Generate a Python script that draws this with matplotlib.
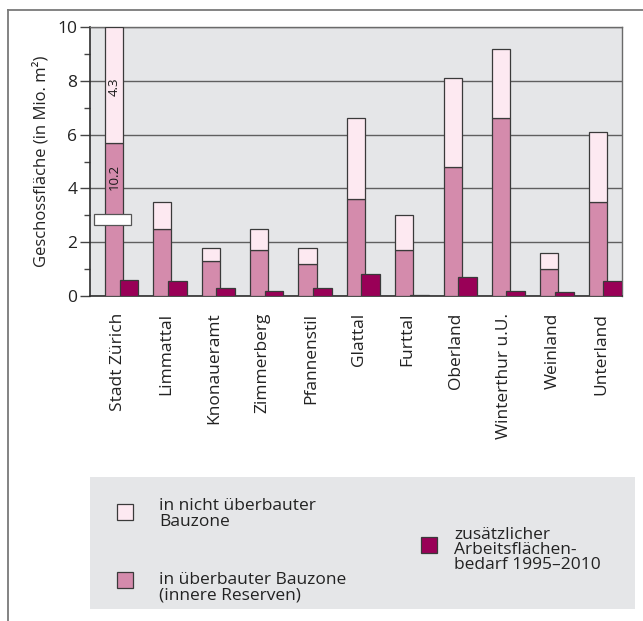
import matplotlib
matplotlib.use("Agg")
import matplotlib.pyplot as plt
from matplotlib.patches import Rectangle
from matplotlib.lines import Line2D
from matplotlib.ticker import MultipleLocator

plt.rcParams["font.family"] = ["Open Sans", "DejaVu Sans"]

# Regions and floor space reserves (Mio. m²)
regions = ["Stadt Zürich", "Limmattal", "Knonaueramt", "Zimmerberg", "Pfannenstil",
           "Glattal", "Furttal", "Oberland", "Winterthur u.U.", "Weinland", "Unterland"]
inner_reserves = [10.2, 2.5, 1.3, 1.7, 1.2, 3.6, 1.7, 4.8, 6.6, 1.0, 3.5]   # in überbauter Bauzone
outer_reserves = [4.3, 1.0, 0.5, 0.8, 0.6, 3.0, 1.3, 3.3, 2.6, 0.6, 2.6]    # in nicht überbauter Bauzone
demand = [0.6, 0.55, 0.3, 0.2, 0.28, 0.82, 0.05, 0.72, 0.2, 0.15, 0.57]     # zusätzlicher Arbeitsflächenbedarf
y_max = 10
y_ticks = [0, 2, 4, 6, 8, 10]

C_OUTER = "#fde9f1"
C_INNER = "#d48bac"
C_DEMAND = "#990057"
C_BG = "#e5e6e8"
C_EDGE = "#3a3a3a"
C_TEXT = "#222222"
FS = 12.5

W, H = 643, 621
fig = plt.figure(figsize=(W / 100, H / 100), dpi=100)


def fx(px):
    return px / W


def fy(py):
    return 1 - py / H


# outer frame lines
fig.add_artist(Line2D([fx(8), 1], [fy(10), fy(10)], color="#7a7a7a", lw=1.3))
fig.add_artist(Line2D([fx(8), fx(8)], [fy(10), 0], color="#7a7a7a", lw=1.3))

ax = fig.add_axes([fx(90), fy(296), fx(622) - fx(90), fy(27) - fy(296)])
ax.set_facecolor(C_BG)
ax.set_xlim(0, len(regions))
ax.set_ylim(0, y_max)

# broken first bar: the lower segment is shortened so the stack fits the axis
cut = max(0, inner_reserves[0] + outer_reserves[0] - y_max)
inner_drawn = [v - cut if i == 0 else v for i, v in enumerate(inner_reserves)]

xs = list(range(len(regions)))
bw_main = 0.375
bw_dem = 0.39
x_main = [x + 0.31 for x in xs]
x_dem = [x + 0.61 for x in xs]

ax.bar(x_main, inner_drawn, width=bw_main, align="edge", color=C_INNER,
       edgecolor=C_EDGE, linewidth=0.9, zorder=3)
ax.bar(x_main, outer_reserves, width=bw_main, bottom=inner_drawn, align="edge",
       color=C_OUTER, edgecolor=C_EDGE, linewidth=0.9, zorder=3)
ax.bar(x_dem, demand, width=bw_dem, align="edge", color=C_DEMAND,
       edgecolor=C_EDGE, linewidth=0.9, zorder=4)

# break marker on the first bar
ax.add_patch(Rectangle((0.08, 2.64), 0.77, 0.39, facecolor="white",
                       edgecolor="#555555", linewidth=0.9, zorder=5, clip_on=False))

# value labels on the broken bar
xc0 = x_main[0] + bw_main / 2
ax.text(xc0, inner_drawn[0] - 1.28, f"{inner_reserves[0]:.1f}", rotation=90,
        ha="center", va="center", fontsize=9.5, color="#1a1a1a", zorder=6)
ax.text(xc0, inner_drawn[0] + outer_reserves[0] / 2 - 0.08, f"{outer_reserves[0]:.1f}",
        rotation=90, ha="center", va="center", fontsize=9.5, color="#1a1a1a", zorder=6)

ax.set_yticks(y_ticks)
ax.yaxis.set_minor_locator(MultipleLocator(1))
ax.grid(axis="y", which="major", color="#5f5f5f", linewidth=1.0, zorder=1)
ax.set_axisbelow(True)
ax.tick_params(axis="y", which="major", length=7, width=1, color="#444444",
               labelsize=FS, labelcolor=C_TEXT, pad=2)
ax.tick_params(axis="y", which="minor", length=4, width=1, color="#444444")
ax.set_xticks([x + 0.57 for x in xs])
ax.set_xticklabels(regions, rotation=90, fontsize=FS, color=C_TEXT, va="top", ha="center")
ax.tick_params(axis="x", length=0, pad=12)
ax.set_ylabel("Geschossfläche (in Mio. m²)", fontsize=12, color=C_TEXT, labelpad=6)

for side in ("top", "right"):
    ax.spines[side].set_color("#6a6a6a")
    ax.spines[side].set_linewidth(1.0)
for side in ("left", "bottom"):
    ax.spines[side].set_color("#2e2e2e")
    ax.spines[side].set_linewidth(1.2)

# legend panel
fig.add_artist(Rectangle((fx(90), fy(609)), fx(635) - fx(90), fy(477) - fy(609),
                         transform=fig.transFigure, facecolor=C_BG, edgecolor="none"))


def legend_square(px, py, color):
    s = 16
    fig.add_artist(Rectangle((fx(px), fy(py + s)), s / W, s / H,
                             transform=fig.transFigure, facecolor=color,
                             edgecolor=C_EDGE, linewidth=0.9))


legend_square(117, 504, C_OUTER)
legend_square(117, 572, C_INNER)
legend_square(421, 537, C_DEMAND)

fig.text(fx(159), fy(514), "in nicht überbauter\nBauzone", fontsize=FS,
         color=C_TEXT, va="center", ha="left", linespacing=0.95)
fig.text(fx(159), fy(588), "in überbauter Bauzone\n(innere Reserven)", fontsize=FS,
         color=C_TEXT, va="center", ha="left", linespacing=0.95)
fig.text(fx(454), fy(550), "zusätzlicher\nArbeitsflächen-\nbedarf 1995–2010",
         fontsize=FS, color=C_TEXT, va="center", ha="left", linespacing=0.95)

fig.savefig("out.png", dpi=100)
